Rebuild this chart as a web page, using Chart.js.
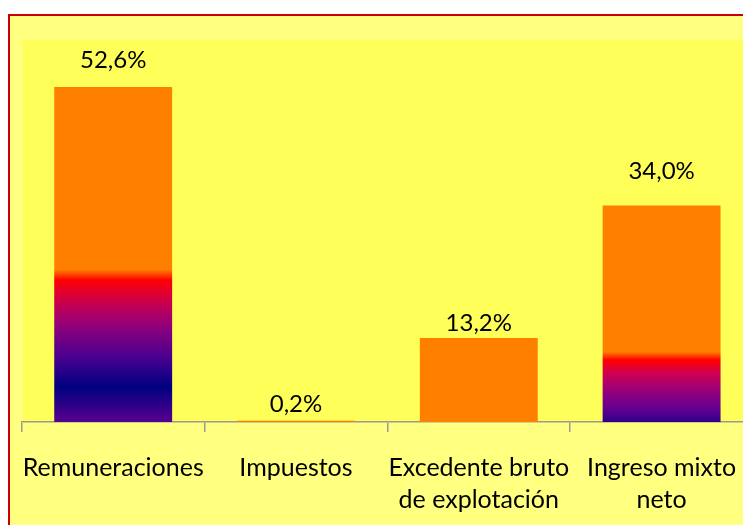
<!DOCTYPE html>
<html>
<head>
<meta charset="utf-8">
<script src="https://cdn.jsdelivr.net/npm/chart.js@4.4.1/dist/chart.umd.min.js"></script>
<style>
  html, body { margin: 0; padding: 0; background: #fff; overflow: hidden; }
  #wrap { width: 743px; height: 525px; overflow: hidden; }
  canvas { display: block; }
</style>
</head>
<body>
<div id="wrap">
  <canvas id="chart" width="780" height="525"></canvas>
</div>
<script>
// Data
const categories = [
  'Remuneraciones',
  'Impuestos',
  ['Excedente bruto', 'de explotación'],
  ['Ingreso mixto', 'neto'],
];
const shares = [52.6, 0.2, 13.2, 34.0];

// Styling
const ORANGE = '#FF8000';
const FONT = 'Lato, "Open Sans", sans-serif';
// gradient stops per bar (fraction from the top of the bar), null = flat orange
const barGradients = [
  [[0, ORANGE], [0.545, ORANGE], [0.576, '#FF0000'], [0.615, '#E00030'], [0.675, '#B00068'],
   [0.734, '#800080'], [0.806, '#4A0090'], [0.896, '#000080'], [1, '#580090']],
  null,
  null,
  [[0, ORANGE], [0.676, ORANGE], [0.713, '#FF0000'], [0.773, '#D00050'], [0.866, '#900080'],
   [0.944, '#600090'], [1, '#2C0088']],
];
// distance (px) from bar top to the label centre
const labelOffsets = [27, 16, 15, 34];

function barColor(context) {
  const chart = context.chart;
  const stops = barGradients[context.dataIndex];
  if (!stops || !chart.chartArea) return ORANGE;
  const y = chart.scales.y;
  const top = y.getPixelForValue(shares[context.dataIndex]);
  const bottom = y.getPixelForValue(0);
  const g = chart.ctx.createLinearGradient(0, top, 0, bottom);
  stops.forEach(([p, c]) => g.addColorStop(p, c));
  return g;
}

const frame = {
  id: 'frame',
  beforeDraw(chart) {
    const { ctx, width, height, chartArea } = chart;
    ctx.save();
    ctx.fillStyle = '#FFFFFF';
    ctx.fillRect(0, 0, width, height);
    ctx.fillStyle = '#CC0000';
    ctx.fillRect(8, 14, width - 8, 2);
    ctx.fillRect(8, 14, 2, height - 14);
    ctx.fillStyle = '#FFFF80';
    ctx.fillRect(10, 16, width - 10, height - 16);
    ctx.fillStyle = '#FFFF5A';
    ctx.fillRect(chartArea.left + 1, chartArea.top, width - chartArea.left, chartArea.bottom - chartArea.top);
    ctx.restore();
  },
};

const valueLabels = {
  id: 'valueLabels',
  afterDatasetsDraw(chart) {
    const { ctx } = chart;
    const meta = chart.getDatasetMeta(0);
    ctx.save();
    ctx.font = '24px ' + FONT;
    ctx.fillStyle = '#000';
    ctx.textAlign = 'center';
    ctx.textBaseline = 'middle';
    meta.data.forEach((bar, i) => {
      const txt = shares[i].toFixed(1).replace('.', ',') + '%';
      ctx.fillText(txt, bar.x, bar.y - labelOffsets[i]);
    });
    ctx.restore();
  },
};

new Chart(document.getElementById('chart'), {
  type: 'bar',
  data: {
    labels: categories,
    datasets: [{
      data: shares,
      backgroundColor: barColor,
      borderWidth: 0,
      categoryPercentage: 1,
      barPercentage: 0.645,
    }],
  },
  options: {
    responsive: false,
    animation: false,
    devicePixelRatio: 1,
    layout: { padding: { left: 21, right: 27, top: 40, bottom: 0 } },
    plugins: { legend: { display: false }, tooltip: { enabled: false } },
    scales: {
      y: { display: false, min: 0, max: 60 },
      x: {
        afterFit: (scale) => { scale.height = 103; },
        border: { display: true, color: '#9A9A9A', width: 1.5 },
        grid: {
          offset: true,
          drawOnChartArea: false,
          drawTicks: true,
          tickLength: 10,
          color: '#9A9A9A',
          lineWidth: 1.5,
        },
        ticks: {
          color: '#000',
          font: { family: FONT, size: 25, lineHeight: '32px' },
          padding: 20,
          maxRotation: 0,
          autoSkip: false,
        },
      },
    },
  },
  plugins: [frame, valueLabels],
});
</script>
</body>
</html>
